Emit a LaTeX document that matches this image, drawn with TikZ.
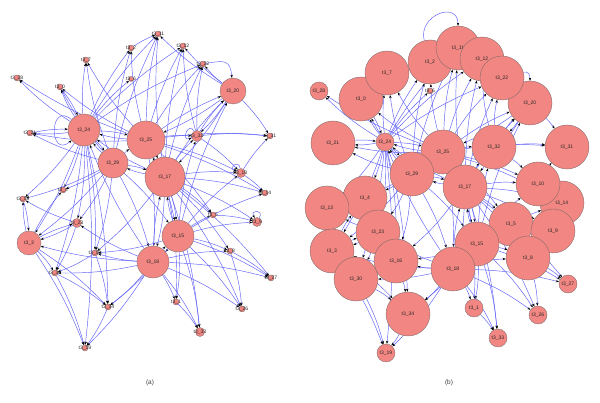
\documentclass[tikz,border=0pt]{standalone}
\usepackage{fontspec}
\setmainfont{Liberation Sans}
\usetikzlibrary{arrows.meta,backgrounds}
\definecolor{edgeblue}{RGB}{95,95,250}
\definecolor{nodefill}{RGB}{242,134,130}
\definecolor{nodeline}{RGB}{125,105,105}
\newcommand\EdgeList{24/7,24/28,24/0,24/21,24/2,24/11,24/6,24/13,24/4,24/3,24/23,24/30,24/16,24/34,24/19,24/25,24/29,24/12,24/22,%
25/11,25/12,25/22,25/2,25/7,25/0,25/32,25/20,25/31,25/10,25/17,25/24,25/15,25/18,25/14,25/5,25/21,25/28,%
29/24,29/0,29/7,29/2,29/11,29/13,29/4,29/23,29/3,29/16,29/25,29/17,29/15,29/18,29/21,%
17/10,17/14,17/5,17/9,17/15,17/18,17/25,17/32,17/20,17/22,17/12,17/11,17/24,17/29,17/8,17/27,17/26,17/1,17/33,17/16,%
15/18,15/17,15/5,15/9,15/8,15/27,15/26,15/33,15/1,15/10,15/14,15/20,15/32,15/16,15/34,%
18/15,18/1,18/33,18/26,18/27,18/8,18/34,18/16,18/19,18/30,18/23,18/3,18/24,18/17,%
20/22,20/12,20/31,20/25,20/32,20/17,20/11,%
3/13,3/4,3/30,3/34,3/19,3/23,%
32/20,32/31,32/10,32/22,32/12,%
10/14,10/31,23/3,23/13,23/30,16/30,16/34,30/34,30/19,34/19,1/33,8/27,8/26,21/24,0/24,5/9,13/3}
\newcommand\DrawEdges[1]{%
  \foreach \s/\t in \EdgeList {\draw[edgb] (#1\s) to (#1\t);}}
% \vx{name}{x}{y}{diameter}{label}
\newcommand\vx[5]{\node[vtx,minimum size=#4pt,label={[lab]center:#5}] (#1) at (#2,#3) {};}
\begin{document}
\begin{tikzpicture}[x=1pt,y=-1pt,
  vtx/.style={circle,draw=nodeline,fill=nodefill,line width=0.35pt,inner sep=0pt},
  lab/.style={font=\fontsize{5}{5.5}\selectfont,text=black!85,inner sep=0pt},
  edg/.style={draw=edgeblue,line width=0.45pt,-{Stealth[length=3.2pt,width=2.4pt,color=black]}},
  edgb/.style={edg,bend left=6},
  captxt/.style={font=\fontsize{6.5}{7}\selectfont,text=black!75}]
\useasboundingbox (0,0) rectangle (600,403);
% ---------- panel (a) ----------
\vx{a0}{60}{87}{6}{t3\_0}
\vx{a1}{176}{302}{6}{t3\_1}
\vx{a2}{131}{48}{6}{t3\_2}
\vx{a3}{29}{243}{24}{t3\_3}
\vx{a4}{63}{190}{6}{t3\_4}
\vx{a5}{213}{215}{6}{t3\_5}
\vx{a6}{131}{79}{5}{t3\_6}
\vx{a7}{86}{60}{6}{t3\_7}
\vx{a8}{230}{251}{6}{t3\_8}
\vx{a9}{257}{222}{9}{t3\_9}
\vx{a10}{241}{173}{9}{t3\_10}
\vx{a11}{158}{34}{6}{t3\_11}
\vx{a12}{183}{46}{6}{t3\_12}
\vx{a13}{23}{199}{6}{t3\_13}
\vx{a14}{265}{193}{6}{t3\_14}
\vx{a16}{95}{253}{6}{t3\_16}
\vx{a19}{85}{348}{6}{t3\_19}
\vx{a21}{30}{133}{6}{t3\_21}
\vx{a22}{203}{64}{6}{t3\_22}
\vx{a23}{77}{223}{9}{t3\_23}
\vx{a26}{242}{309}{6}{t3\_26}
\vx{a27}{271}{278}{6}{t3\_27}
\vx{a28}{17}{78}{6}{t3\_28}
\vx{a30}{55}{273}{6}{t3\_30}
\vx{a31}{270}{136}{6}{t3\_31}
\vx{a32}{197}{136}{11}{t3\_32}
\vx{a33}{200}{332}{9}{t3\_33}
\vx{a34}{108}{307}{6}{t3\_34}
\vx{a20}{233}{91}{26}{t3\_20}
\vx{a24}{84}{130}{32}{t3\_24}
\vx{a25}{146}{140}{38}{t3\_25}
\vx{a29}{113}{163}{30}{t3\_29}
\vx{a17}{165}{177}{40}{t3\_17}
\vx{a15}{178}{236}{32}{t3\_15}
\vx{a18}{153}{262}{32}{t3\_18}
\node[captxt] (capa) at (150,383) {(a)};
% ---------- panel (b) ----------
\vx{b28}{319}{91}{18}{t3\_28}
\vx{b0}{361}{99}{44}{t3\_0}
\vx{b7}{387}{73}{44}{t3\_7}
\vx{b2}{430}{62}{44}{t3\_2}
\vx{b6}{430}{91}{6}{t3\_6}
\vx{b11}{458}{48}{44}{t3\_11}
\vx{b12}{482}{59}{44}{t3\_12}
\vx{b20}{530}{103}{44}{t3\_20}
\vx{b22}{502}{78}{44}{t3\_22}
\vx{b21}{333}{143}{44}{t3\_21}
\vx{b24}{385}{142}{18}{t3\_24}
\vx{b25}{443}{152}{44}{t3\_25}
\vx{b32}{494}{147}{44}{t3\_32}
\vx{b31}{567}{147}{44}{t3\_31}
\vx{b29}{412}{174}{44}{t3\_29}
\vx{b17}{465}{187}{44}{t3\_17}
\vx{b14}{562}{203}{44}{t3\_14}
\vx{b10}{538}{184}{44}{t3\_10}
\vx{b4}{365}{198}{44}{t3\_4}
\vx{b13}{327}{208}{44}{t3\_13}
\vx{b23}{378}{232}{44}{t3\_23}
\vx{b3}{332}{251}{44}{t3\_3}
\vx{b16}{396}{261}{44}{t3\_16}
\vx{b30}{356}{279}{44}{t3\_30}
\vx{b5}{511}{224}{44}{t3\_5}
\vx{b9}{553}{231}{44}{t3\_9}
\vx{b8}{528}{258}{44}{t3\_8}
\vx{b15}{477}{244}{44}{t3\_15}
\vx{b18}{453}{269}{44}{t3\_18}
\vx{b34}{408}{314}{44}{t3\_34}
\vx{b19}{386}{353}{18}{t3\_19}
\vx{b27}{568}{284}{18}{t3\_27}
\vx{b1}{474}{308}{18}{t3\_1}
\vx{b26}{538}{315}{18}{t3\_26}
\vx{b33}{498}{338}{18}{t3\_33}
\node[captxt] (capb) at (449,383) {(b)};
% ---------- edges ----------
\begin{pgfonlayer}{background}
  \fill[white] (0,0) rectangle (600,403);
  \DrawEdges{a}
  \DrawEdges{b}
  \draw[edgb] (a2) to (a11);
  \draw[edg] (a22) to[out=10,in=95,looseness=1.6] (a20);
  \draw[edg] (a32) to[out=120,in=200,min distance=12pt] (a32);
  \draw[edg] (a10) to[out=100,in=160,min distance=10pt] (a10);
  \draw[edg] (a9) to[out=60,in=120,min distance=10pt] (a9);
  \draw[edg] (a24) to[out=140,in=220,min distance=30pt] (a24);
  \draw[edg] (b2) to[out=105,in=90,looseness=1.8] (b11);
  \draw[edg] (b22) to[out=15,in=90,looseness=1.3] (b20);
\end{pgfonlayer}
\end{tikzpicture}
\end{document}
